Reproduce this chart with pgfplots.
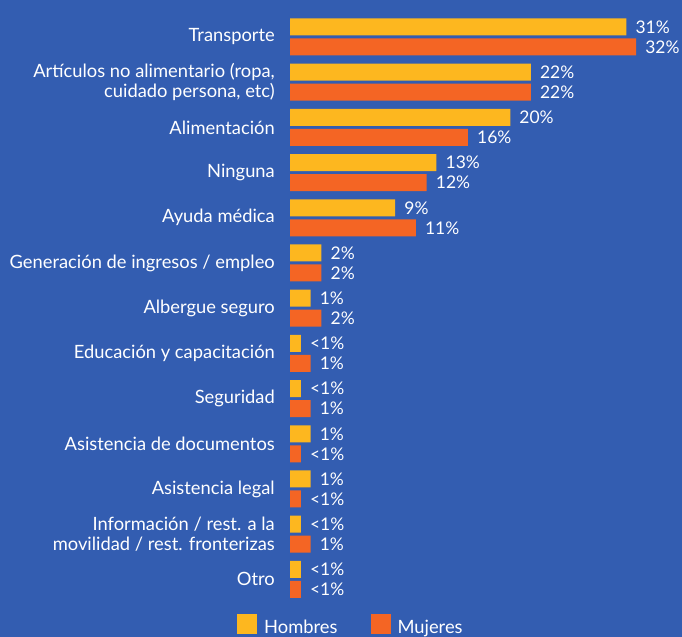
\documentclass[border=0pt]{standalone}
\usepackage{fontspec}
\setmainfont{Lato}
\usepackage{pgfplots}
\pgfplotsset{compat=1.18}
\definecolor{Bg}{HTML}{335DB1}
\definecolor{Hom}{HTML}{FDB71F}
\definecolor{Muj}{HTML}{F46524}
\newcommand{\lab}{\fontsize{18.4}{20}\selectfont}
\newcommand{\val}{\fontsize{17.5}{18}\selectfont}

\begin{document}
\begin{tikzpicture}
\useasboundingbox (0,0) rectangle (682bp,637bp);
\clip (0,0) rectangle (682bp,637bp);
\fill[Bg] (0,0) rectangle (682bp,637bp);
\begin{axis}[
  at={(290bp,35bp)}, anchor=south west,
  scale only axis, width=390.6bp, height=587.6bp,
  xmin=0, xmax=36, ymin=-0.5, ymax=12.5,
  xbar, bar width=17bp,
  hide x axis,
  axis y line*=left,
  y axis line style={draw=none},
  major tick length=0pt,
  ytick={0,...,12},
  yticklabels={Otro,
    {Información / rest. a la\\movilidad / rest. fronterizas},
    Asistencia legal, Asistencia de documentos, Seguridad,
    Educación y capacitación, Albergue seguro,
    Generación de ingresos / empleo, Ayuda médica, Ninguna,
    Alimentación,
    {Artículos no alimentario (ropa,\\cuidado persona, etc)},
    Transporte},
  yticklabel style={text=white, font=\lab, align=right,
    inner sep=0pt, xshift=-15bp},
  point meta=explicit symbolic,
  nodes near coords,
  every node near coord/.append style={text=white, font=\val,
    anchor=west, inner sep=0pt, xshift=9bp},
  legend columns=2,
  legend style={at={(-0.1357,-0.0204)}, anchor=north west,
    draw=none, fill=none, text=white, font=\lab, inner sep=0pt,
    /tikz/every odd column/.append style={column sep=5bp},
    /tikz/every even column/.append style={column sep=31bp}},
  legend image code/.code={\fill[#1] (0bp,-7bp) rectangle (20bp,13bp);},
]
\addplot[draw=none, fill=Hom, bar shift=10bp] coordinates {
  (1.0,0) [<1\%] (1.0,1) [<1\%] (1.9,2) [1\%] (1.9,3) [1\%]
  (1.0,4) [<1\%] (1.0,5) [<1\%] (1.9,6) [1\%] (2.9,7) [2\%]
  (9.7,8) [9\%] (13.5,9) [13\%] (20.3,10) [20\%] (22.2,11) [22\%]
  (31.0,12) [31\%]};
\addlegendentry{Hombres}
\addplot[draw=none, fill=Muj, bar shift=-10bp] coordinates {
  (1.0,0) [<1\%] (1.9,1) [1\%] (1.0,2) [<1\%] (1.0,3) [<1\%]
  (1.9,4) [1\%] (1.9,5) [1\%] (2.9,6) [2\%] (2.9,7) [2\%]
  (11.6,8) [11\%] (12.6,9) [12\%] (16.4,10) [16\%] (22.2,11) [22\%]
  (31.9,12) [32\%]};
\addlegendentry{Mujeres}
\end{axis}
\end{tikzpicture}
\end{document}
